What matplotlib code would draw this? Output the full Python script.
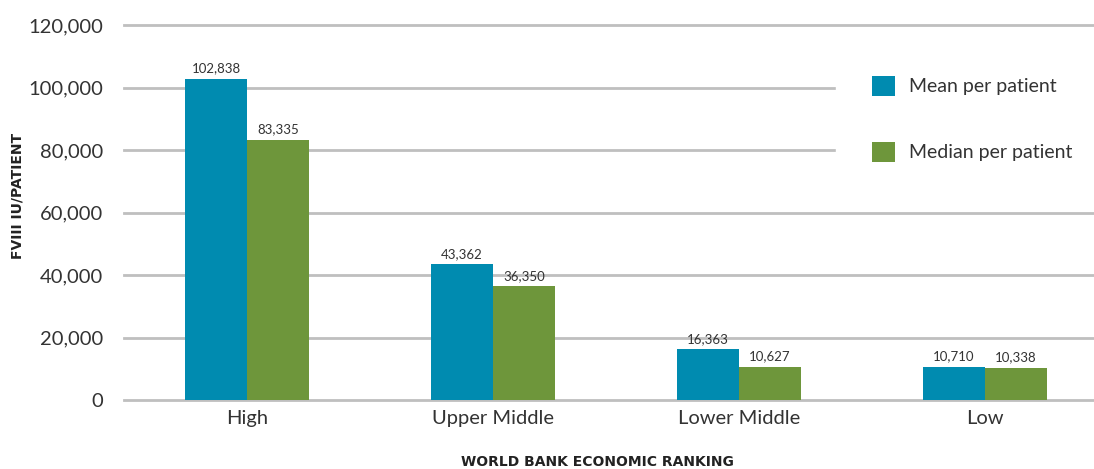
import numpy as np
import matplotlib
matplotlib.use("Agg")
import matplotlib.pyplot as plt

categories = ["High", "Upper Middle", "Lower Middle", "Low"]
mean_per_patient = [102838, 43362, 16363, 10710]
median_per_patient = [83335, 36350, 10627, 10338]
y_ticks = [0, 20000, 40000, 60000, 80000, 100000, 120000]

MEAN_COLOR = "#008BB0"
MEDIAN_COLOR = "#6E963B"
GRID_COLOR = "#BFBFBF"
TEXT_COLOR = "#333333"

plt.rcParams["font.family"] = ["Lato", "DejaVu Sans"]

fig = plt.figure(figsize=(10.94, 4.69), dpi=100)
ax = fig.add_axes([124 / 1094, 1 - 400 / 469, 1 - 124 / 1094, 375 / 469])

x = np.arange(len(categories))
width = 0.252
b1 = ax.bar(x - width / 2, mean_per_patient, width, color=MEAN_COLOR,
            label="Mean per patient", zorder=3)
b2 = ax.bar(x + width / 2, median_per_patient, width, color=MEDIAN_COLOR,
            label="Median per patient", zorder=3)

for bars in (b1, b2):
    ax.bar_label(bars, labels=[f"{v:,.0f}" for v in bars.datavalues],
                 padding=3, fontsize=9.5, color=TEXT_COLOR)

ax.set_xlim(-0.5, 3 + (1094 - 985) / 246)
ax.set_ylim(0, 120000)
ax.set_yticks(y_ticks)
ax.set_yticklabels([f"{v:,}" for v in y_ticks])
ax.set_xticks(x)
ax.set_xticklabels(categories)
ax.tick_params(axis="both", length=0, labelsize=14.5, colors=TEXT_COLOR)
ax.tick_params(axis="y", pad=15)
ax.tick_params(axis="x", pad=7)

ax.yaxis.grid(True, color=GRID_COLOR, linewidth=2, zorder=0)
for line in ax.get_ygridlines():
    line.set_clip_on(False)
for s in ax.spines.values():
    s.set_visible(False)

fig.text(18 / 1094, 1 - 196 / 469, "FVIII IU/PATIENT", rotation=90,
         ha="center", va="center", fontsize=10, fontweight="bold",
         color="#222222", family="DejaVu Sans")
fig.text(597 / 1094, 1 - 462 / 469, "WORLD BANK ECONOMIC RANKING",
         ha="center", va="center", fontsize=10, fontweight="bold",
         color="#222222", family="DejaVu Sans")

# white legend box wide enough to break the gridlines behind it
leg = ax.legend(loc="upper left", bbox_to_anchor=(826 / 1094, 1 - 30 / 469),
                bbox_transform=fig.transFigure, frameon=True, fancybox=False,
                framealpha=1, edgecolor="white", facecolor="white",
                fontsize=14, handlelength=1.2, handleheight=1.2,
                labelspacing=2.37, handletextpad=0.7, borderpad=1.85)
for t in leg.get_texts():
    t.set_color(TEXT_COLOR)
leg.set_zorder(5)

fig.savefig("out.png", dpi=100)
